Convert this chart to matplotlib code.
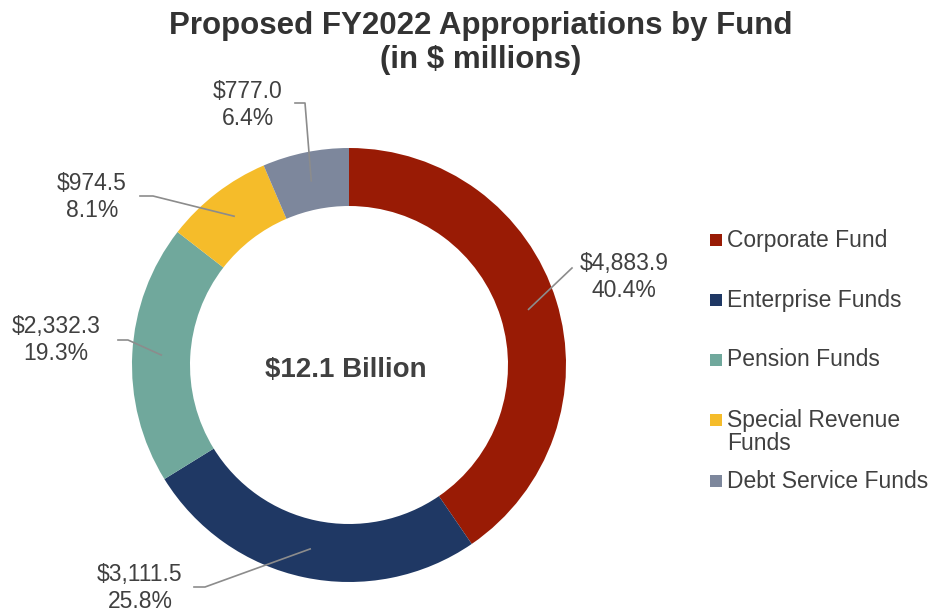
import matplotlib.pyplot as plt
from matplotlib.patches import Rectangle
import numpy as np

plt.rcParams['font.family'] = ['Liberation Sans', 'DejaVu Sans']

funds = ["Corporate Fund", "Enterprise Funds", "Pension Funds",
         "Special Revenue\nFunds", "Debt Service Funds"]
amounts = [4883.9, 3111.5, 2332.3, 974.5, 777.0]
colors = ["#991B05", "#1F3864", "#70A89C", "#F5BC2A", "#7D879C"]

W, H = 931, 611
TEXT = "#404040"

# label text centres and leader-line elbows, in pixels from top-left
label_pos = [(624, 277), (140, 588), (56, 340), (92, 197), (248, 105)]
elbows = [[(572, 268)], [(205, 587), (194, 587)], [(128, 340), (118, 340)],
          [(153, 196), (140, 196)], [(305, 103), (295, 103)]]
legend_rows = [240, 300, 360, 420, 481]


def py(y):
    return H - y


fig = plt.figure(figsize=(W / 100, H / 100), dpi=100)
ax = fig.add_axes([0, 0, 1, 1])

cx, cy, R = 349, py(365), 217
width = 58
wedges, _ = ax.pie(amounts, colors=colors, startangle=90, counterclock=False,
                   center=(cx, cy), radius=R, frame=True,
                   wedgeprops=dict(width=width, linewidth=0))
ax.set_xlim(0, W)
ax.set_ylim(0, H)
ax.set_aspect('equal')
ax.axis('off')

total = sum(amounts)
for w, amt, (tx, ty), elb in zip(wedges, amounts, label_pos, elbows):
    mid = np.deg2rad((w.theta1 + w.theta2) / 2)
    r = R - width / 2
    pts = [(cx + r * np.cos(mid), cy + r * np.sin(mid))] + [(x, py(y)) for x, y in elb]
    xs, ys = zip(*pts)
    ax.plot(xs, ys, color="#8C8C8C", linewidth=1.2)
    ax.text(tx, py(ty), f"${amt:,.1f}\n{amt / total * 100:.1f}%",
            ha='center', va='center', fontsize=16.5, color=TEXT,
            linespacing=1.2)

ax.text(346, py(370), "$12.1 Billion", ha='center', va='center',
        fontsize=20, fontweight='bold', color=TEXT)

ax.text(481, py(43), "Proposed FY2022 Appropriations by Fund\n(in $ millions)",
        ha='center', va='center', fontsize=22.5, fontweight='bold',
        color="#333333", linespacing=1.18)

# legend
for name, c, y in zip(funds, colors, legend_rows):
    ax.add_patch(Rectangle((710, py(y) - 6), 12, 12, color=c, linewidth=0))
    ax.text(727, py(y) + 11.5, name, ha='left', va='top', fontsize=16.5,
            color=TEXT, linespacing=1.05)

fig.savefig("out.png", dpi=100)
